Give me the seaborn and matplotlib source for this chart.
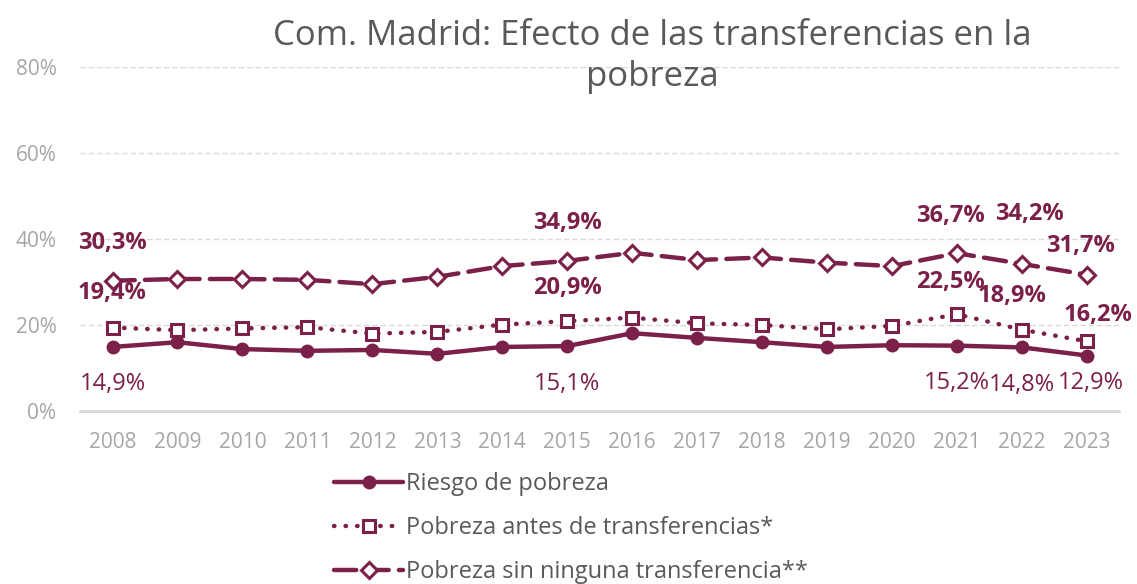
import matplotlib
matplotlib.use("Agg")
import matplotlib.pyplot as plt
import seaborn as sns
import pandas as pd
from matplotlib.lines import Line2D

years = list(range(2008, 2024))
riesgo = [14.9, 16.0, 14.4, 14.0, 14.2, 13.3, 14.9, 15.1, 18.1, 17.0, 16.0, 14.9, 15.3, 15.2, 14.8, 12.9]
antes = [19.4, 18.8, 19.2, 19.5, 18.0, 18.4, 20.1, 20.9, 21.7, 20.4, 20.0, 19.0, 19.8, 22.5, 18.9, 16.2]
sin_transf = [30.3, 30.7, 30.7, 30.5, 29.5, 31.2, 33.7, 34.9, 36.8, 35.1, 35.7, 34.5, 33.7, 36.7, 34.2, 31.7]

series_names = ["Riesgo de pobreza",
                "Pobreza antes de transferencias*",
                "Pobreza sin ninguna transferencia**"]
title = "Com. Madrid: Efecto de las transferencias en la\npobreza"
y_ticks = [0, 20, 40, 60, 80]

# years that carry a value label, per series
labelled_years = {
    series_names[0]: [2008, 2015, 2021, 2022, 2023],
    series_names[1]: [2008, 2015, 2021, 2022, 2023],
    series_names[2]: [2008, 2015, 2021, 2022, 2023],
}

COLOR = "#7B2049"
GRAY_TXT = "#A6A6A6"
TITLE_TXT = "#595959"

sns.set_theme(style="white")
plt.rcParams["font.family"] = ["Open Sans", "DejaVu Sans"]

df = pd.DataFrame({"year": years * 3,
                   "value": riesgo + antes + sin_transf,
                   "serie": [series_names[0]] * 16 + [series_names[1]] * 16 + [series_names[2]] * 16})

fig = plt.figure(figsize=(11.37, 5.84), dpi=100)
ax = fig.add_axes([0.0704, 0.2962, 0.9142, 0.5891])

styles = {
    series_names[0]: dict(ls="-", marker="o", mfc=COLOR, ms=10, mew=0),
    series_names[1]: dict(ls=(0, (0.1, 2.5)), marker="s", mfc="white", ms=9, mew=2.2),
    series_names[2]: dict(ls=(0, (5, 2.3)), marker="D", mfc="white", ms=8.5, mew=2.2),
}

for name in series_names:
    sub = df[df["serie"] == name]
    st = styles[name]
    sns.lineplot(data=sub, x="year", y="value", ax=ax, color=COLOR, lw=3.2,
                 linestyle=st["ls"], marker=st["marker"], markerfacecolor=st["mfc"],
                 markeredgecolor=COLOR, markersize=st["ms"], markeredgewidth=st["mew"],
                 dash_capstyle="round", solid_capstyle="round", legend=False, zorder=3)

# value labels: (dx points, dy points)
offsets = {
    series_names[0]: {2008: (0, -27), 2015: (0, -27), 2021: (0, -27), 2022: (0, -27), 2023: (3, -20)},
    series_names[1]: {2008: (0, 25), 2015: (0, 24), 2021: (-5, 23), 2022: (-7, 24), 2023: (8, 19)},
    series_names[2]: {2008: (0, 27), 2015: (0, 27), 2021: (-5, 27), 2022: (5, 36), 2023: (-5, 21)},
}
values = {series_names[0]: riesgo, series_names[1]: antes, series_names[2]: sin_transf}
for name in series_names:
    for yr in labelled_years[name]:
        v = values[name][years.index(yr)]
        dx, dy = offsets[name][yr]
        ax.annotate(f"{v:.1f}%".replace(".", ","), (yr, v), xytext=(dx, dy),
                    textcoords="offset points", ha="center", va="center",
                    fontsize=17, color=COLOR,
                    fontweight="normal" if name == series_names[0] else "bold",
                    zorder=4, annotation_clip=False)

ax.set_xlim(2007.5, 2023.5)
ax.set_ylim(0, 80)
ax.set_xticks(years)
ax.set_xticklabels([str(y) for y in years])
ax.set_yticks(y_ticks)
ax.set_yticklabels([f"{t}%" for t in y_ticks])
ax.tick_params(axis="both", colors=GRAY_TXT, labelsize=15, length=0)
ax.tick_params(axis="x", pad=15)
ax.tick_params(axis="y", pad=17)
ax.set_xlabel("")
ax.set_ylabel("")
for s in ax.spines.values():
    s.set_visible(False)
for t in y_ticks[1:]:
    ax.axhline(t, color="#D9D9D9", lw=1, ls=(0, (4, 2)), zorder=1)
ax.axhline(0, color="#D9D9D9", lw=2.2, zorder=2, clip_on=False)

fig.text(0.574, 0.903, title, ha="center", va="center", fontsize=25,
         color=TITLE_TXT, linespacing=1.25)

handles = [Line2D([0], [0], color=COLOR, lw=3.2, linestyle=styles[n]["ls"],
                  marker=styles[n]["marker"], markerfacecolor=styles[n]["mfc"],
                  markeredgecolor=COLOR, markersize=styles[n]["ms"],
                  markeredgewidth=styles[n]["mew"], dash_capstyle="round")
           for n in series_names]
leg = fig.legend(handles, series_names, loc="center left", bbox_to_anchor=(0.294, 0.096),
                 frameon=False, fontsize=17, handlelength=2.9, handletextpad=0.15,
                 labelspacing=0.84, borderaxespad=0, borderpad=0)
for t in leg.get_texts():
    t.set_color(TITLE_TXT)

fig.savefig("out.png", dpi=100)
